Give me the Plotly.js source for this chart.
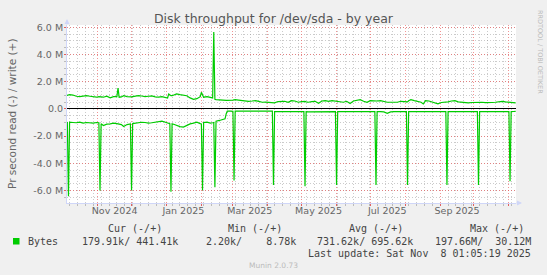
<!DOCTYPE html>
<html>
<head>
<meta charset="utf-8">
<script src="https://cdn.plot.ly/plotly-3.0.1.min.js"></script>
<style>
html,body{margin:0;padding:0;background:#F0F0F0;}
#chart{width:547px;height:275px;}
</style>
</head>
<body>
<div id="chart"></div>
<script>
// Daily samples (millions of bytes per second)
const dates = [
"2024-10-04","2024-10-05","2024-10-06","2024-10-07","2024-10-10","2024-10-13","2024-10-16","2024-10-19","2024-10-22","2024-10-25",
"2024-10-28","2024-10-31","2024-11-02","2024-11-03","2024-11-04","2024-11-06","2024-11-09","2024-11-12","2024-11-15","2024-11-18",
"2024-11-19","2024-11-20","2024-11-22","2024-11-24","2024-11-27","2024-11-30","2024-12-01","2024-12-02","2024-12-04","2024-12-07",
"2024-12-10","2024-12-13","2024-12-16","2024-12-19","2024-12-22","2024-12-25","2024-12-28","2024-12-31","2025-01-02","2025-01-03",
"2025-01-04","2025-01-05","2025-01-06","2025-01-08","2025-01-10","2025-01-13","2025-01-16","2025-01-19","2025-01-22","2025-01-25",
"2025-01-28","2025-01-31","2025-02-01","2025-02-02","2025-02-03","2025-02-06","2025-02-09","2025-02-11","2025-02-12","2025-02-13",
"2025-02-14","2025-02-17","2025-02-20","2025-02-22","2025-02-23","2025-02-24","2025-02-27","2025-03-01","2025-03-02","2025-03-03",
"2025-03-06","2025-03-09","2025-03-12","2025-03-15","2025-03-18","2025-03-21","2025-03-24","2025-03-27","2025-03-30","2025-04-02",
"2025-04-05","2025-04-06","2025-04-07","2025-04-10","2025-04-13","2025-04-16","2025-04-19","2025-04-22","2025-04-25","2025-04-28",
"2025-05-01","2025-05-03","2025-05-04","2025-05-05","2025-05-07","2025-05-10","2025-05-13","2025-05-16","2025-05-19","2025-05-22",
"2025-05-25","2025-05-28","2025-05-31","2025-06-01","2025-06-02","2025-06-04","2025-06-07","2025-06-10","2025-06-13","2025-06-16",
"2025-06-19","2025-06-22","2025-06-25","2025-06-28","2025-07-01","2025-07-04","2025-07-05","2025-07-06","2025-07-07","2025-07-10",
"2025-07-13","2025-07-16","2025-07-19","2025-07-22","2025-07-25","2025-07-28","2025-07-31","2025-08-02","2025-08-03","2025-08-04",
"2025-08-06","2025-08-09","2025-08-12","2025-08-15","2025-08-17","2025-08-19","2025-08-22","2025-08-25","2025-08-28","2025-08-30",
"2025-09-02","2025-09-05","2025-09-06","2025-09-07","2025-09-08","2025-09-11","2025-09-14","2025-09-17","2025-09-20","2025-09-23",
"2025-09-26","2025-09-29","2025-10-02","2025-10-04","2025-10-05","2025-10-06","2025-10-08","2025-10-11","2025-10-14","2025-10-17",
"2025-10-20","2025-10-23","2025-10-26","2025-10-29","2025-11-01","2025-11-02","2025-11-03","2025-11-05","2025-11-07"
];
const writeM = [
0.97,1.00,1.00,1.05,1.02,0.93,0.90,0.95,0.97,0.93,
0.88,0.86,0.90,0.90,0.88,0.86,0.93,0.81,0.90,0.90,
1.54,0.86,0.88,0.97,0.90,0.86,0.88,0.90,0.93,0.97,
0.95,0.90,0.93,0.95,0.88,0.86,0.90,0.82,0.80,1.10,
1.00,0.97,0.97,1.05,1.10,1.05,1.02,0.97,0.81,0.70,
0.75,0.90,1.22,0.95,0.86,0.90,0.85,0.81,5.66,0.70,
0.68,0.68,0.66,0.65,0.63,0.62,0.61,0.64,0.66,0.68,
0.65,0.61,0.60,0.56,0.58,0.61,0.55,0.49,0.50,0.49,
0.46,0.44,0.45,0.54,0.56,0.56,0.49,0.61,0.58,0.49,
0.53,0.56,0.55,0.52,0.49,0.53,0.56,0.42,0.58,0.61,
0.56,0.61,0.58,0.56,0.56,0.55,0.49,0.56,0.40,0.58,
0.61,0.68,0.56,0.49,0.61,0.58,0.56,0.56,0.58,0.61,
0.55,0.49,0.49,0.50,0.49,0.56,0.52,0.49,0.52,0.60,
0.68,0.61,0.55,0.49,0.37,0.61,0.58,0.50,0.45,0.37,
0.47,0.49,0.49,0.50,0.52,0.58,0.61,0.52,0.49,0.47,
0.44,0.47,0.49,0.49,0.49,0.50,0.49,0.46,0.44,0.47,
0.49,0.53,0.56,0.52,0.49,0.47,0.46,0.44,0.44
];
const readM = [
-0.98,-1.00,-6.42,-0.98,-1.00,-1.02,-0.98,-1.05,-1.00,-1.02,
-1.05,-1.00,-1.02,-6.00,-1.10,-1.22,-1.12,-1.10,-1.05,-1.08,
-1.10,-1.12,-1.15,-1.29,-1.15,-1.10,-5.98,-1.08,-1.05,-1.02,
-0.98,-1.00,-1.05,-1.02,-0.98,-0.95,-0.90,-0.98,-1.05,-1.05,
-1.08,-6.10,-1.10,-1.15,-1.22,-1.30,-1.34,-1.22,-1.10,-1.05,
-0.98,-1.08,-1.10,-5.98,-1.00,-0.98,-1.05,-1.02,-1.00,-5.76,
-0.90,-0.85,-0.78,-0.73,-0.37,-0.17,-0.17,-0.18,-5.27,-0.17,
-0.17,-0.18,-0.17,-0.17,-0.18,-0.17,-0.17,-0.17,-0.18,-0.17,
-0.17,-5.60,-0.20,-0.20,-0.19,-0.20,-0.21,-0.20,-0.20,-0.19,
-0.20,-0.20,-5.68,-0.20,-0.22,-0.22,-0.20,-0.20,-0.21,-0.20,
-0.20,-0.19,-0.20,-5.60,-0.20,-0.20,-0.20,-0.22,-0.20,-0.20,
-0.21,-0.20,-0.20,-0.19,-0.20,-0.20,-0.20,-5.60,-0.20,-0.20,
-0.22,-0.32,-0.22,-0.20,-0.20,-0.21,-0.20,-0.20,-5.60,-0.20,
-0.20,-0.19,-0.20,-0.20,-0.21,-0.20,-0.20,-0.20,-0.19,-0.20,
-0.20,-0.20,-0.20,-5.60,-0.20,-0.20,-0.21,-0.20,-0.20,-0.19,
-0.20,-0.20,-0.20,-0.20,-5.60,-0.20,-0.20,-0.21,-0.20,-0.20,
-0.19,-0.20,-0.20,-0.20,-0.20,-5.32,-0.20,-0.19,-0.18
];
const xTickDates = ["2024-11-16","2025-01-16","2025-03-16","2025-05-16","2025-07-16","2025-09-16"];
const xTickLabels = ["Nov 2024","Jan 2025","Mar 2025","May 2025","Jul 2025","Sep 2025"];
const yTickVals = [-6,-4,-2,0,2,4,6];
const yTickLabels = ["-6.0 M","-4.0 M","-2.0 M","0.0","2.0 M","4.0 M","6.0 M"];
const legendHeaders = ["Cur (-/+)","Min (-/+)","Avg (-/+)","Max (-/+)"];
const legendValues = ["179.91k/ 441.41k","2.20k/    8.78k","731.62k/ 695.62k","197.66M/  30.12M"];
const seriesName = "Bytes";
const lastUpdate = "Last update: Sat Nov  8 01:05:19 2025";

// layout geometry (pixels)
const PL=67, PR=516, PT=25, PB=203;
const fx = p => (p-PL)/(PR-PL);
const fy = p => (PB-p)/(PB-PT);
const nb = s => s.replace(/ /g,"\u00a0");
const xRange = ["2024-10-04 17:00","2025-11-07 07:00"];

const green = "#00CC00";
const txt = "#666666";
const mono = "DejaVu Sans Mono, monospace";
const sans = "DejaVu Sans, sans-serif";

const traces = [
  {x: dates, y: readM, xaxis:"x", yaxis:"y", type:"scatter", mode:"lines",
   line:{color:green, width:1.2}, hoverinfo:"skip"},
  {x: dates, y: writeM, xaxis:"x2", yaxis:"y", type:"scatter", mode:"lines",
   line:{color:green, width:1.2}, hoverinfo:"skip"}
];

const annotations = [];
annotations.push({text:"Pr second read (-) / write (+)", xref:"paper", yref:"paper",
  x:fx(12), y:fy(114), textangle:-90, showarrow:false, xanchor:"center", yanchor:"middle",
  font:{family:sans, size:10.5, color:txt}});
annotations.push({text:"RRDTOOL / TOBI OETIKER", xref:"paper", yref:"paper",
  x:fx(540), y:fy(52), textangle:90, showarrow:false, xanchor:"center", yanchor:"middle",
  font:{family:sans, size:6.5, color:"#bbbbbb"}});
const headRight = [164,284,405,526];
const valRight = [180,298,415,533];
legendHeaders.forEach((h,i)=>annotations.push({text:nb(h), xref:"paper", yref:"paper",
  x:fx(headRight[i]), y:fy(229), xanchor:"right", yanchor:"middle", showarrow:false,
  font:{family:mono, size:10, color:"#444"}}));
legendValues.forEach((v,i)=>annotations.push({text:nb(v), xref:"paper", yref:"paper",
  x:fx(valRight[i]), y:fy(241.5), xanchor:"right", yanchor:"middle", showarrow:false,
  font:{family:mono, size:10, color:"#444"}}));
annotations.push({text:seriesName, xref:"paper", yref:"paper", x:fx(26), y:fy(241.5),
  xanchor:"left", yanchor:"middle", showarrow:false, font:{family:mono, size:10, color:"#444"}});
annotations.push({text:nb(lastUpdate), xref:"paper", yref:"paper", x:fx(533), y:fy(253.5),
  xanchor:"right", yanchor:"middle", showarrow:false, font:{family:mono, size:10, color:"#444"}});
annotations.push({text:"Munin 2.0.73", xref:"paper", yref:"paper", x:fx(273), y:fy(265),
  xanchor:"center", yanchor:"middle", showarrow:false, font:{family:sans, size:7.5, color:"#bbbbbb"}});
annotations.push({text:"", xref:"paper", yref:"paper", x:0, y:fy(19), ax:0, ay:7,
  showarrow:true, arrowhead:2, arrowsize:1, arrowwidth:1, arrowcolor:"#CFD6F8"});
annotations.push({text:"", xref:"paper", yref:"paper", x:fx(522), y:0, ax:-7, ay:0,
  showarrow:true, arrowhead:2, arrowsize:1, arrowwidth:1, arrowcolor:"#CFD6F8"});

const mgrid = "rgba(235,90,90,0.65)";
const sgrid = "rgba(140,140,140,0.45)";
const dotted = "1px,2px";

const layout = {
  width:547, height:275,
  paper_bgcolor:"#F0F0F0", plot_bgcolor:"#FFFFFF",
  margin:{l:PL, r:547-PR, t:PT, b:275-PB, pad:0},
  showlegend:false,
  title:{text:"Disk throughput for /dev/sda - by year", xref:"container", x:0.5, xanchor:"center",
    yref:"container", y:1-19/275, yanchor:"middle",
    font:{family:sans, size:12.5, color:"#555555"}},
  xaxis:{type:"date", range:xRange, dtick:"M1", tick0:"2024-11-01",
    showticklabels:false, showgrid:true, gridcolor:mgrid, griddash:dotted, gridwidth:1,
    ticks:"outside", ticklen:2, tickcolor:"#e06060",
    showline:true, linecolor:"#CFD6F8", linewidth:1, zeroline:false,
    minor:{dtick:7*86400000, tick0:"2024-10-07", showgrid:true, gridcolor:sgrid, griddash:dotted,
      gridwidth:1, ticks:"outside", ticklen:2, tickcolor:"#bbbbbb"}},
  xaxis2:{type:"date", range:xRange, overlaying:"x", anchor:"y", side:"bottom",
    tickmode:"array", tickvals:xTickDates, ticktext:xTickLabels,
    showgrid:false, ticks:"", showline:false, zeroline:false,
    tickfont:{family:sans, size:9.5, color:txt}},
  yaxis:{range:[-6.92,6.17], tickmode:"array", tickvals:yTickVals, ticktext:yTickLabels,
    showgrid:true, gridcolor:mgrid, griddash:dotted, gridwidth:1,
    ticks:"outside", ticklen:2, tickcolor:"#e06060", ticklabelstandoff:-1,
    showline:true, linecolor:"#CFD6F8", linewidth:1,
    zeroline:true, zerolinecolor:"#000000", zerolinewidth:1,
    tickfont:{family:sans, size:9.5, color:txt},
    minor:{dtick:0.5, tick0:0, showgrid:true, gridcolor:sgrid, griddash:dotted, gridwidth:1,
      ticks:"outside", ticklen:2, tickcolor:"#bbbbbb"}},
  shapes:[{type:"rect", xref:"paper", yref:"paper", x0:fx(13), x1:fx(19.5), y0:fy(244.5), y1:fy(238),
    fillcolor:green, line:{width:0}}],
  annotations:annotations
};

Plotly.newPlot("chart", traces, layout, {staticPlot:true, displayModeBar:false});
</script>
</body>
</html>
